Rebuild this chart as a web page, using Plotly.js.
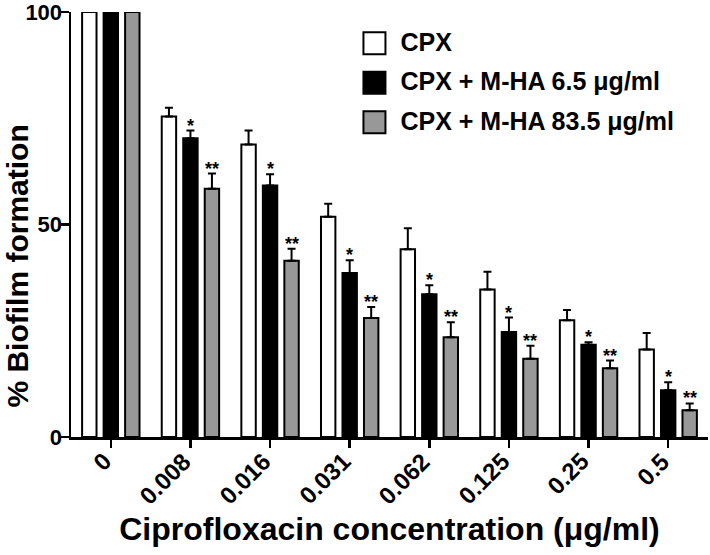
<!DOCTYPE html>
<html>
<head>
<meta charset="utf-8">
<script src="https://cdn.plot.ly/plotly-3.0.1.min.js"></script>
<style>html,body{margin:0;padding:0;background:#fff;}#chart{width:710px;height:555px;}</style>
</head>
<body>
<div id="chart"></div>
<script>
const categories = ["0", "0.008", "0.016", "0.031", "0.062", "0.125", "0.25", "0.5"];
const seriesNames = ["CPX", "CPX + M-HA 6.5 μg/ml", "CPX + M-HA 83.5 μg/ml"];
const cpx      = [100, 75.4, 68.8, 51.8, 44.2, 34.7, 27.5, 20.6];
const cpxErr   = [0, 2.1, 3.3, 3.1, 4.9, 4.2, 2.4, 3.9];
const mha65    = [100, 70.3, 59.2, 38.6, 33.6, 24.7, 21.7, 11.0];
const mha65Err = [0, 1.8, 2.6, 3.0, 2.1, 3.4, 0.6, 1.9];
const mha835   = [100, 58.4, 41.5, 28.0, 23.5, 18.4, 16.2, 6.3];
const mha835Err= [0, 3.6, 2.8, 2.6, 3.5, 3.1, 1.8, 1.6];
const sig65    = ["", "*", "*", "*", "*", "*", "*", "*"];
const sig835   = ["", "**", "**", "**", "**", "**", "**", "**"];
const yTitle = "% Biofilm formation";
const xTitle = "Ciprofloxacin concentration (μg/ml)";

const FONT = "Liberation Sans, Arial, sans-serif";
const colors = ["#ffffff", "#000000", "#989898"];
const vals = [cpx, mha65, mha835];
const errs = [cpxErr, mha65Err, mha835Err];

const BARGAP = 0.19;
const slot = (1 - BARGAP) / 3;

const traces = vals.map((v, k) => ({
  type: "bar",
  name: seriesNames[k],
  x: categories,
  y: v,
  legendgroup: "g" + k,
  marker: {color: colors[k], line: {color: "#000", width: 2}},
  error_y: {type: "data", symmetric: false, array: errs[k], arrayminus: v.map(() => 0),
            color: "#000", thickness: 2, width: 4},
  hoverinfo: "skip"
}));

const annotations = [];
[[sig65, mha65, mha65Err, 0], [sig835, mha835, mha835Err, slot]].forEach(([sig, v, e, off]) => {
  sig.forEach((s, i) => {
    if (!s) return;
    annotations.push({
      x: i + off, y: v[i] + e[i], xref: "x", yref: "y",
      text: s, showarrow: false, yanchor: "bottom", yshift: -7,
      font: {family: FONT, size: 18, color: "#000", weight: "bold"}
    });
  });
});
// rotated category labels
categories.forEach((c, i) => {
  annotations.push({
    x: i, y: 0, xref: "x", yref: "y", text: c, showarrow: false,
    textangle: -45, xanchor: "right", yanchor: "top", xshift: 8.5, yshift: -8,
    font: {family: FONT, size: 24, color: "#000", weight: "bold"}
  });
});
// y-axis title (placed lower than centre, as in the original)
annotations.push({
  x: -0.0832, y: 0.401, xref: "paper", yref: "paper", text: yTitle, showarrow: false,
  textangle: -90, xanchor: "center", yanchor: "middle",
  font: {family: FONT, size: 30, color: "#000", weight: "bold"}
});

const layout = {
  width: 710, height: 555,
  margin: {l: 71, r: 2, t: 12, b: 118},
  paper_bgcolor: "#fff", plot_bgcolor: "#fff",
  barmode: "group", bargap: BARGAP, bargroupgap: 0.33,
  showlegend: true,
  legend: {x: 0.4544, y: 0.985, xanchor: "left", yanchor: "top",
           font: {family: FONT, size: 25, color: "#000", weight: "bold"},
           traceorder: "grouped", tracegroupgap: 4, bgcolor: "rgba(0,0,0,0)"},
  xaxis: {
    type: "category", range: [-0.5, 7.5],
    showline: true, linecolor: "#000", linewidth: 2.5,
    ticks: "outside", ticklen: 8, tickwidth: 2.5, tickcolor: "#000",
    showticklabels: false, showgrid: false, zeroline: false,
    title: {text: xTitle, standoff: 71,
            font: {family: FONT, size: 32, color: "#000", weight: "bold"}}
  },
  yaxis: {
    range: [0, 100], tickvals: [0, 50, 100], ticklabeloverflow: "allow",
    showline: true, linecolor: "#000", linewidth: 2.5,
    ticks: "outside", ticklen: 8, tickwidth: 2.5, tickcolor: "#000",
    ticklabelstandoff: -6,
    showgrid: false, zeroline: false,
    tickfont: {family: FONT, size: 22, color: "#000", weight: "bold"}
  },
  annotations: annotations
};

Plotly.newPlot("chart", traces, layout, {displayModeBar: false, staticPlot: true}).then(gd => {
  // enlarge the legend swatches to match the original's large squares
  gd.querySelectorAll(".legend .legendpoints path").forEach(p => p.setAttribute("d", "M5,13H-17V-9H5Z"));
});
</script>
</body>
</html>
